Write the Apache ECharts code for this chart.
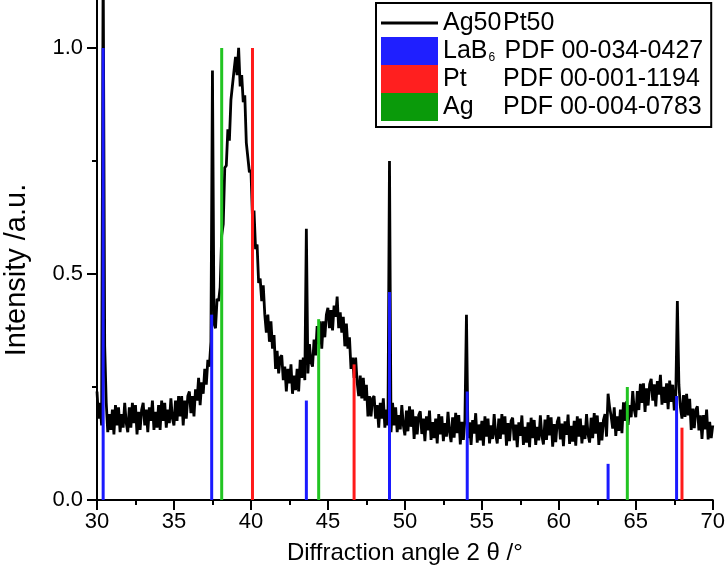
<!DOCTYPE html>
<html>
<head>
<meta charset="utf-8">
<script src="https://cdn.jsdelivr.net/npm/echarts@6/dist/echarts.min.js"></script>
<style>html,body{margin:0;padding:0;background:#fff}#c{width:728px;height:579px}</style>
</head>
<body>
<div id="c"></div>
<script>
// Measured pattern Ag50Pt50: intensity sampled every 0.1 deg from 30.0 to 70.0
var angleStart = 30.0;
var angleStep = 0.1;
var intensity = [
0.24,0.18,0.215,0.165,1.2,0.34,0.215,0.15,0.19,0.155,
0.2,0.145,0.21,0.165,0.205,0.15,0.19,0.16,0.215,0.17,
0.15,0.205,0.16,0.215,0.17,0.21,0.145,0.195,0.155,0.2,
0.215,0.165,0.2,0.15,0.205,0.175,0.22,0.155,0.195,0.16,
0.21,0.155,0.22,0.175,0.215,0.16,0.2,0.17,0.225,0.18,
0.165,0.22,0.175,0.23,0.185,0.23,0.165,0.22,0.18,0.23,
0.24,0.192,0.23,0.185,0.245,0.22,0.27,0.21,0.26,0.235,
0.29,0.255,0.31,0.295,0.35,0.95,0.39,0.38,0.445,0.44,
0.47,0.585,0.61,0.735,0.74,0.82,0.795,0.885,0.885,0.95,
0.98,0.94,1.0,0.915,0.94,0.88,0.895,0.79,0.79,0.725,
0.73,0.625,0.64,0.555,0.565,0.48,0.49,0.44,0.475,0.41,
0.37,0.41,0.35,0.395,0.335,0.365,0.29,0.33,0.28,0.315,
0.32,0.265,0.295,0.24,0.29,0.258,0.3,0.235,0.275,0.243,
0.29,0.24,0.31,0.27,0.315,0.265,0.6,0.28,0.345,0.305,
0.295,0.355,0.32,0.385,0.345,0.395,0.335,0.395,0.36,0.41,
0.425,0.38,0.42,0.375,0.43,0.405,0.45,0.38,0.415,0.37,
0.405,0.34,0.39,0.335,0.36,0.29,0.315,0.27,0.315,0.26,
0.23,0.275,0.225,0.27,0.22,0.255,0.185,0.23,0.185,0.225,
0.23,0.18,0.21,0.16,0.215,0.18,0.225,0.16,0.2,0.165,
0.75,0.15,0.215,0.165,0.205,0.15,0.188,0.156,0.21,0.165,
0.143,0.198,0.152,0.207,0.162,0.2,0.135,0.185,0.145,0.188,
0.196,0.146,0.18,0.13,0.185,0.154,0.198,0.133,0.172,0.137,
0.18,0.125,0.19,0.145,0.185,0.13,0.17,0.14,0.195,0.15,
0.128,0.183,0.138,0.193,0.148,0.188,0.123,0.173,0.133,0.178,
0.41,0.137,0.172,0.122,0.177,0.147,0.192,0.127,0.167,0.132,
0.175,0.12,0.185,0.14,0.18,0.125,0.165,0.135,0.19,0.145,
0.125,0.18,0.135,0.19,0.145,0.185,0.12,0.17,0.13,0.175,
0.182,0.132,0.167,0.117,0.172,0.142,0.187,0.122,0.162,0.127,
0.172,0.117,0.182,0.137,0.177,0.122,0.162,0.132,0.187,0.142,
0.123,0.178,0.133,0.188,0.143,0.183,0.118,0.168,0.128,0.173,
0.184,0.134,0.169,0.119,0.174,0.144,0.189,0.124,0.164,0.129,
0.175,0.12,0.185,0.14,0.18,0.125,0.165,0.135,0.19,0.145,
0.127,0.182,0.137,0.192,0.147,0.187,0.122,0.172,0.132,0.177,
0.19,0.14,0.235,0.205,0.185,0.158,0.205,0.142,0.185,0.153,
0.2,0.148,0.216,0.175,0.218,0.166,0.21,0.183,0.241,0.2,
0.183,0.241,0.199,0.257,0.215,0.258,0.195,0.247,0.209,0.256,
0.268,0.22,0.256,0.207,0.263,0.233,0.277,0.211,0.25,0.215,
0.258,0.201,0.264,0.217,0.255,0.198,0.236,0.44,0.255,0.205,
0.18,0.232,0.184,0.235,0.187,0.224,0.155,0.202,0.159,0.2,
0.207,0.154,0.187,0.135,0.188,0.156,0.2,0.134,0.173,0.137,
0.165
];

// Reference patterns (stick positions and relative intensities)
var lab6Angles = [30.4, 37.45, 43.6, 49.0, 54.05, 63.2, 67.65];
var lab6Heights = [1.0, 0.41, 0.22, 0.46, 0.24, 0.08, 0.23];
var ptAngles = [40.1, 46.7, 68.0];
var ptHeights = [1.0, 0.30, 0.16];
var agAngles = [38.1, 44.4, 64.45];
var agHeights = [1.0, 0.40, 0.25];

var xTicks = [30, 35, 40, 45, 50, 55, 60, 65, 70];
var yTicks = [0.0, 0.5, 1.0];
var yMinorTicks = [0.25, 0.75];
var yMax = 1.106;

var FONT = 'Liberation Sans';

function pairs(xs, ys) { return xs.map(function (x, i) { return [x, ys[i]]; }); }
var curve = intensity.map(function (v, i) { return [+(angleStart + i * angleStep).toFixed(1), v]; });

function stickSeries(name, xs, ys, color) {
  return {
    name: name, type: 'custom', z: 5, clip: true,
    itemStyle: { color: color },
    data: pairs(xs, ys),
    renderItem: function (params, api) {
      var p0 = api.coord([api.value(0), 0]);
      var p1 = api.coord([api.value(0), api.value(1)]);
      return { type: 'line', shape: { x1: p0[0], y1: p0[1], x2: p1[0], y2: p1[1] },
               style: { stroke: color, lineWidth: 3 } };
    }
  };
}

var tickStyle = { color: '#000', width: 2 };

var chart = echarts.init(document.getElementById('c'), null, { renderer: 'canvas' });
chart.setOption({
  animation: false,
  backgroundColor: '#fff',
  grid: { left: 97, right: 15, top: 0, bottom: 79, containLabel: false },
  xAxis: {
    type: 'value', min: 30, max: 70, interval: 5,
    axisLine: { show: true, onZero: false, lineStyle: tickStyle },
    axisTick: { show: true, length: 10, lineStyle: tickStyle },
    minorTick: { show: true, splitNumber: 2, length: 5, lineStyle: tickStyle },
    splitLine: { show: false },
    axisLabel: { color: '#000', fontSize: 22, fontFamily: FONT, margin: 11,
                 customValues: xTicks },
    name: 'Diffraction angle 2 \u03b8 /\u00b0', nameLocation: 'middle', nameGap: 41,
    nameTextStyle: { color: '#000', fontSize: 24, fontFamily: FONT }
  },
  yAxis: [{
    type: 'value', min: 0, max: yMax, position: 'left',
    axisLine: { show: true, onZero: false, lineStyle: tickStyle },
    axisTick: { show: true, length: 10, lineStyle: tickStyle, customValues: yTicks },
    splitLine: { show: false },
    axisLabel: { color: '#000', fontSize: 22, fontFamily: FONT, margin: 14,
                 customValues: yTicks,
                 formatter: function (v) { return v.toFixed(1); } }
  }, {
    type: 'value', min: 0, max: yMax, position: 'left', show: true,
    axisLine: { show: true, onZero: false, lineStyle: tickStyle },
    axisTick: { show: true, length: 5, lineStyle: tickStyle, customValues: yMinorTicks },
    splitLine: { show: false },
    axisLabel: { show: true, color: 'rgba(0,0,0,0)', customValues: yMinorTicks,
                 formatter: function () { return ''; } }
  }],
  legend: {
    orient: 'vertical', left: 376, top: 3,
    padding: [6, 8, 6, 5],
    borderColor: '#000', borderWidth: 2, backgroundColor: '#fff',
    itemWidth: 57, itemHeight: 28, itemGap: 0,
    selectedMode: false,
    textStyle: {
      color: '#000', fontSize: 25, fontFamily: FONT, lineHeight: 28,
      rich: {
        a: { width: 60, fontSize: 25, fontFamily: FONT, lineHeight: 28, color: '#000' },
        c: { fontSize: 25, fontFamily: FONT, lineHeight: 28, color: '#000' },
        s: { width: 16, fontSize: 12, fontFamily: FONT, lineHeight: 28, verticalAlign: 'bottom', padding: [0, 0, 1, 1], color: '#000' },
        b: { fontSize: 25, fontFamily: FONT, lineHeight: 28, color: '#000' }
      }
    },
    formatter: function (name) {
      if (name === 'Ag50Pt50') return '{a|Ag50}{b|Pt50}';
      if (name === 'LaB6') return '{c|LaB}{s|6}{b|PDF 00-034-0427}';
      if (name === 'Pt') return '{a|Pt}{b|PDF 00-001-1194}';
      return '{a|Ag}{b|PDF 00-004-0783}';
    },
    data: [
      { name: 'Ag50Pt50',
        icon: 'path://M0,0h0.01v0.01h-0.01z M0,12.5h57v3h-57z M56.99,27.99h0.01v0.01h-0.01z',
        itemStyle: { color: '#000' } },
      { name: 'LaB6', icon: 'rect', itemStyle: { color: '#1f1fff' } },
      { name: 'Pt', icon: 'rect', itemStyle: { color: '#ff1f1f' } },
      { name: 'Ag', icon: 'rect', itemStyle: { color: '#0a9a0a' } }
    ]
  },
  graphic: [{
    type: 'text', x: 17, y: 270, rotation: Math.PI / 2,
    style: { text: 'Intensity /a.u.', fill: '#000', font: '29px "Liberation Sans"',
             align: 'center', verticalAlign: 'middle' }
  }],
  series: [
    { name: 'Ag50Pt50', type: 'line', data: curve, symbol: 'none', showSymbol: false,
      xAxisIndex: 0, yAxisIndex: 0,
      z: 2, clip: true, lineStyle: { color: '#000', width: 2.8, join: 'miter', miterLimit: 2 },
      itemStyle: { color: '#000' } },
    stickSeries('LaB6', lab6Angles, lab6Heights, '#1a1aff'),
    stickSeries('Pt', ptAngles, ptHeights, '#ff1a1a'),
    stickSeries('Ag', agAngles, agHeights, '#22c422')
  ]
});
</script>
</body>
</html>
